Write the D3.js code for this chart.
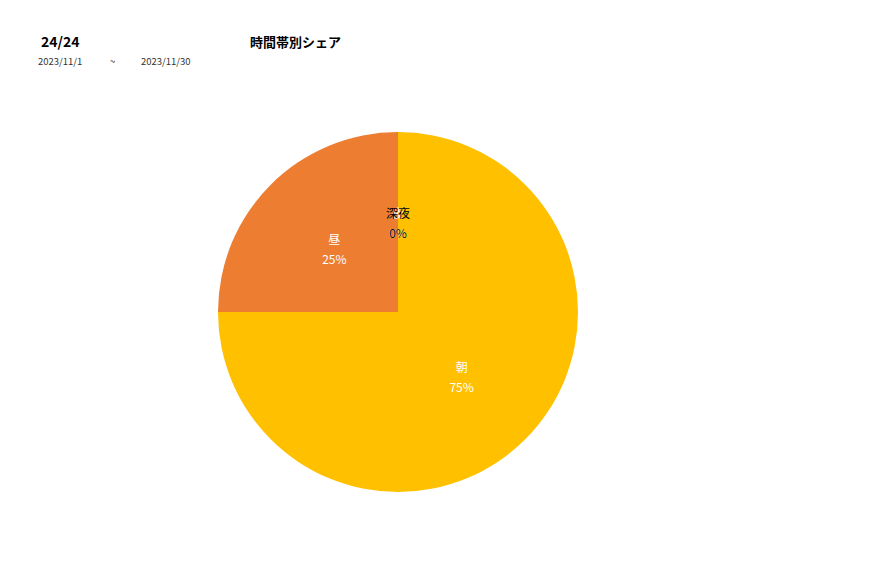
<!DOCTYPE html>
<html><head><meta charset="utf-8">
<script src="https://cdn.jsdelivr.net/npm/d3@7"></script>
<style>
  body { margin: 0; background: #fff; font-family: "Noto Sans CJK JP", "Noto Sans", sans-serif; }
</style>
</head><body>
<div id="chart"></div>
<script>
/* time-of-day share pie */
const categories = ["朝", "昼", "夜", "深夜"];
const shares = [75, 25, 0, 0];
const colors = ["#FFC000", "#ED7D31", "#A5A5A5", "#5B9BD5"];
const labelColors = ["#fff", "#fff", "#fff", "#000"];
const headerTexts = { count: "24/24", from: "2023/11/1", sep: "~", to: "2023/11/30", title: "時間帯別シェア" };

const W = 877, H = 578;
const svg = d3.select("#chart").append("svg").attr("width", W).attr("height", H);

svg.append("text").attr("x", 41).attr("y", 47).attr("font-size", 14).attr("font-weight", "bold").text(headerTexts.count);
svg.append("text").attr("x", 38).attr("y", 65).attr("font-size", 9.5).attr("fill", "#333").text(headerTexts.from);
svg.append("text").attr("x", 110).attr("y", 65).attr("font-size", 9.5).attr("fill", "#333").text(headerTexts.sep);
svg.append("text").attr("x", 141).attr("y", 65).attr("font-size", 9.5).attr("fill", "#333").text(headerTexts.to);
svg.append("text").attr("x", 250).attr("y", 47).attr("font-size", 13).attr("font-weight", "bold").text(headerTexts.title);

const cx = 398, cy = 312, r = 180;
const rows = categories.map((c, i) => ({ label: c, value: shares[i], color: colors[i], lc: labelColors[i] }));
const pie = d3.pie().value(d => d.value).sort(null);
const arcs = pie(rows);
const arc = d3.arc().innerRadius(0).outerRadius(r);
const labelArc = d3.arc().innerRadius(r / 2).outerRadius(r / 2);

const g = svg.append("g").attr("transform", `translate(${cx},${cy})`);
g.selectAll("path").data(arcs).join("path")
  .attr("d", arc)
  .attr("fill", d => d.data.color);

// zero slices stack their labels at the top, as in the original
const lab = g.selectAll("g.lab").data(arcs).join("g").attr("class", "lab")
  .attr("transform", d => `translate(${labelArc.centroid(d)})`);
lab.append("text").attr("text-anchor", "middle").attr("y", -4)
  .attr("font-size", 12).attr("fill", d => d.data.lc).text(d => d.data.label);
lab.append("text").attr("text-anchor", "middle").attr("y", 16)
  .attr("font-size", 12).attr("fill", d => d.data.lc).text(d => d3.format(".0f")(d.data.value) + "%");
</script>
</body></html>
